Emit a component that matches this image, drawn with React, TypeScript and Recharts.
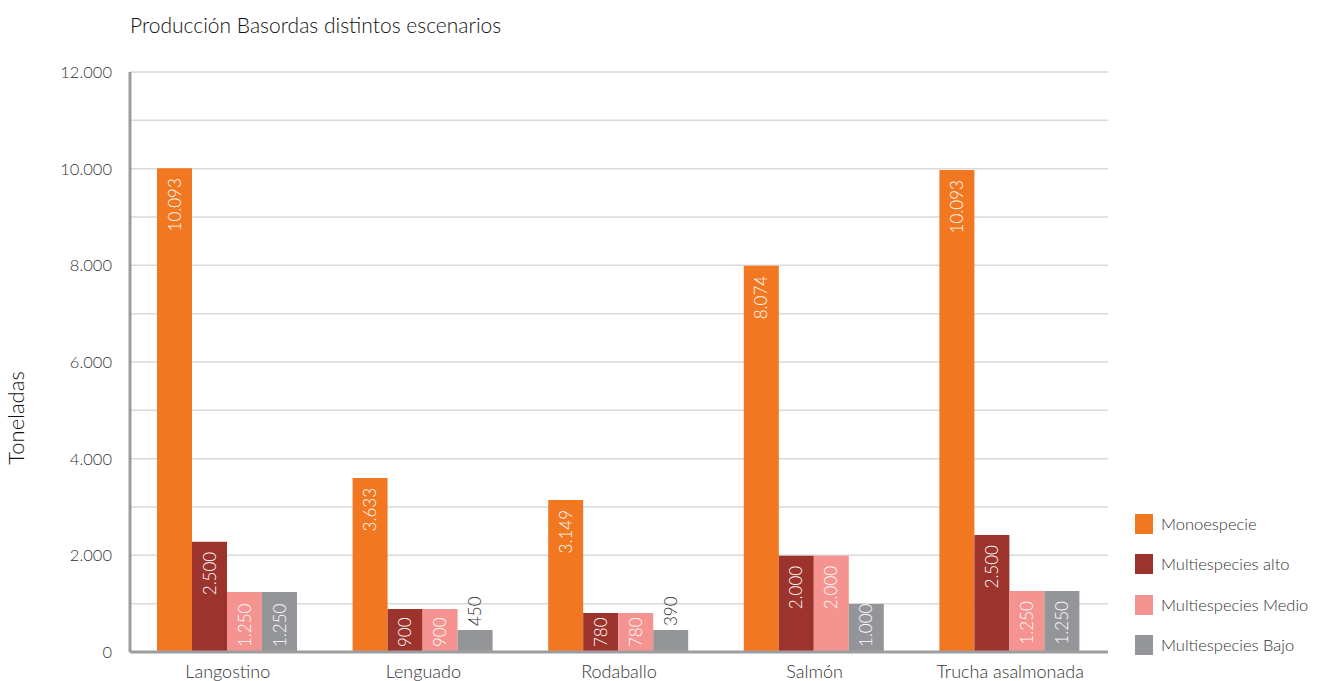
import { BarChart, Bar, XAxis, YAxis, CartesianGrid, LabelList } from "recharts";

// ---- data ----
const categories = ["Langostino", "Lenguado", "Rodaballo", "Salmón", "Trucha asalmonada"];

// bar heights as drawn in the original
const monoespecie = [10010, 3600, 3145, 7990, 9970];
const multiAlto = [2280, 890, 805, 1990, 2420];
const multiMedio = [1240, 890, 805, 1990, 1260];
const multiBajo = [1240, 455, 455, 995, 1260];

// printed values on the bars
const monoLabels = ["10.093", "3.633", "3.149", "8.074", "10.093"];
const altoLabels = ["2.500", "900", "780", "2.000", "2.500"];
const medioLabels = ["1.250", "900", "780", "2.000", "1.250"];
const bajoLabels = ["1.250", "450", "390", "1.000", "1.250"];

const yTicks = [0, 1000, 2000, 3000, 4000, 5000, 6000, 7000, 8000, 9000, 10000, 11000, 12000];
const yTickLabels = ["0", "", "2.000", "", "4.000", "", "6.000", "", "8.000", "", "10.000", "", "12.000"];

const series = [
  { key: "mono", label: "monoLabel", name: "Monoespecie", color: "#F27721" },
  { key: "alto", label: "altoLabel", name: "Multiespecies alto", color: "#9C332D" },
  { key: "medio", label: "medioLabel", name: "Multiespecies Medio", color: "#F4938F" },
  { key: "bajo", label: "bajoLabel", name: "Multiespecies Bajo", color: "#949599" },
];

const data = categories.map((name, i) => ({
  name,
  mono: monoespecie[i],
  alto: multiAlto[i],
  medio: multiMedio[i],
  bajo: multiBajo[i],
  monoLabel: monoLabels[i],
  altoLabel: altoLabels[i],
  medioLabel: medioLabels[i],
  bajoLabel: bajoLabels[i],
}));

const FONT = "Lato, 'Open Sans', sans-serif";
const TEXT = "#333333";
const BASE_Y = 652;
const LABEL_SIZE = 17;

// rotated value label, inside the bar when it fits, above it otherwise
function BarValue(props: any) {
  const vb = props.viewBox ?? props;
  const x = Number(vb.x);
  const y = Number(vb.y);
  const w = Number(vb.width);
  const h = Number(vb.height);
  const text = String(props.value);
  const len = text.replace(".", "").length * 10 + (text.includes(".") ? 5 : 0);
  const cx = x + w / 2 + 6;
  const common = { fontSize: LABEL_SIZE, fontFamily: FONT, fontWeight: 300 };

  // short bars get the number on top
  if (h < 30) {
    return (
      <text transform={`translate(${cx},${y - 4}) rotate(-90)`} textAnchor="start" fill={TEXT} {...common}>
        {text}
      </text>
    );
  }
  const top = y + 10;
  if (top + len > BASE_Y - 5) {
    return (
      <text transform={`translate(${cx},${BASE_Y - 5}) rotate(-90)`} textAnchor="start" fill="#fff" {...common}>
        {text}
      </text>
    );
  }
  return (
    <text transform={`translate(${cx},${top}) rotate(-90)`} textAnchor="end" fill="#fff" {...common}>
      {text}
    </text>
  );
}

export default function App() {
  return (
    <div style={{ position: "absolute", left: 0, top: 0, width: 1325, height: 681, background: "#fff", fontFamily: FONT }}>
      <BarChart
        width={1325}
        height={681}
        data={data}
        margin={{ top: 72, right: 217, left: 0, bottom: 0 }}
        barCategoryGap={27}
        barGap={0}
        style={{ position: "absolute", left: 0, top: 0 }}
      >
        <CartesianGrid vertical={false} stroke="#d9d9d9" strokeWidth={1.5} />
        <XAxis
          dataKey="name"
          height={29}
          axisLine={{ stroke: "#9d9d9f", strokeWidth: 3 }}
          tickLine={false}
          tickSize={6}
          tickMargin={7}
          tick={{ fill: TEXT, fontSize: 18, fontFamily: FONT, fontWeight: 300 }}
        />
        <YAxis
          width={130}
          domain={[0, 12000]}
          ticks={yTicks}
          interval={0}
          tickFormatter={(v: number) => yTickLabels[yTicks.indexOf(v)] ?? ""}
          axisLine={{ stroke: "#9d9d9f", strokeWidth: 3 }}
          tickLine={false}
          tickSize={6}
          tickMargin={12}
          tick={{ fill: TEXT, fontSize: 16.5, fontFamily: FONT, fontWeight: 300 }}
        />
        {series.map((s) => (
          <Bar key={s.key} dataKey={s.key} name={s.name} fill={s.color} isAnimationActive={false}>
            <LabelList dataKey={s.label} content={BarValue} />
          </Bar>
        ))}
      </BarChart>
      <svg width={1325} height={681} style={{ position: "absolute", left: 0, top: 0, pointerEvents: "none" }}>
        <text x={130} y={33} fontSize={21} fill="#111" fontFamily={FONT} fontWeight={300}>
          Producción Basordas distintos escenarios
        </text>
        <text transform="translate(24,418) rotate(-90)" textAnchor="middle" fontSize={22} fill="#111" fontFamily={FONT} fontWeight={300}>
          Toneladas
        </text>
      </svg>
      <div style={{ position: "absolute", left: 1135, top: 504, width: 190 }}>
        {series.map((s) => (
          <div key={s.key} style={{ display: "flex", alignItems: "center", height: 40.3 }}>
            <span style={{ width: 18, height: 20, background: s.color, display: "inline-block", flex: "none" }} />
            <span style={{ marginLeft: 8, fontSize: 16.5, color: TEXT, fontWeight: 300, whiteSpace: "nowrap" }}>{s.name}</span>
          </div>
        ))}
      </div>
    </div>
  );
}
